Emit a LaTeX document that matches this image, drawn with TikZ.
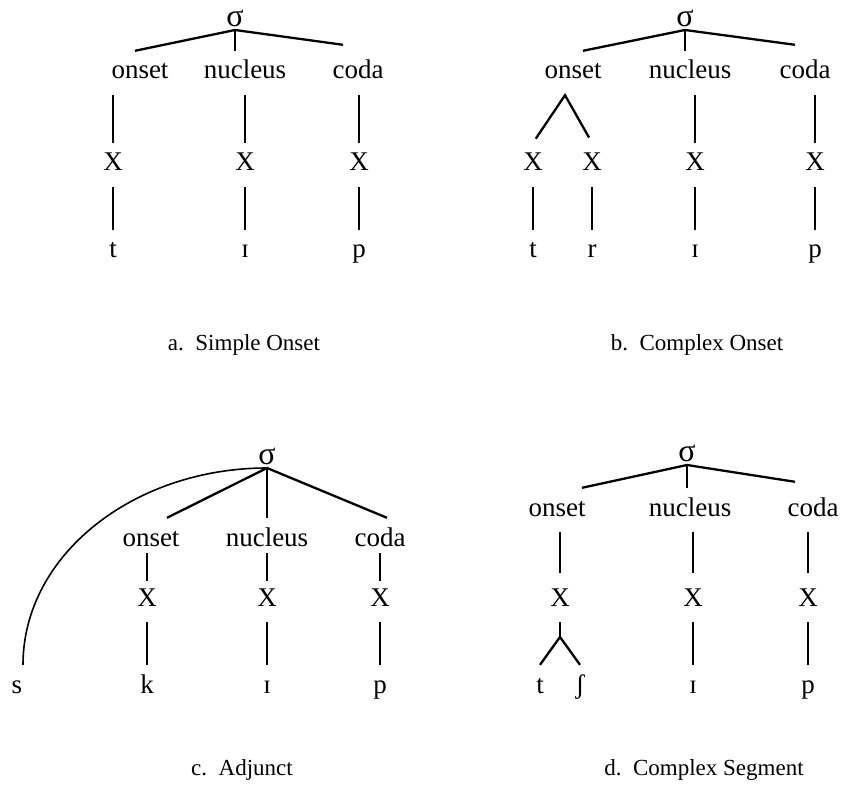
\documentclass[tikz,border=0pt]{standalone}
\usepackage{fontspec}
\setmainfont{Liberation Serif}

\begin{document}
\begin{tikzpicture}[x=1pt,y=-1pt,
  lab/.style={font=\fontsize{27}{30}\selectfont, text height=19pt, text depth=7pt, inner xsep=2pt, inner ysep=9pt},
  sig/.style={font=\fontsize{32}{36}\selectfont, inner sep=3pt, anchor=south},
  captext/.style={font=\fontsize{23}{27}\selectfont},
  link/.style={line width=1.6pt},
  branch/.style={line width=2.3pt}]
\useasboundingbox (0,0) rectangle (848,791);

% a. simple onset
\node[sig] (siga) at (235,30) {σ};
\node[lab] (ona) at (140,73) {onset};
\node[lab] (nua) at (245,73) {nucleus};
\node[lab] (coa) at (358,73) {coda};
\foreach \n/\x in {xa1/113, xa2/245, xa3/359}
  \node[lab] (\n) at (\x,165) {X};
\node[lab] (ta) at (113,252) {t};
\node[lab] (ia) at (245,252) {ɪ};
\node[lab] (pa) at (359,252) {p};
\draw[branch] ([xshift=-5pt]ona.north) -- (siga.south) -- ([shift={(-15pt,6pt)}]coa.north);
\draw[link] (siga.south) -- (siga.south |- nua.north);
\foreach \a/\b in {ona/xa1, nua/xa2, coa/xa3}
  \draw[link] (\a.south -| \b) -- (\b.north);
\foreach \a/\b in {xa1/ta, xa2/ia, xa3/pa}
  \draw[link] (\a.south) -- (\b.north);
\node[captext] (capa) at (244,345) {a.\ \ Simple Onset};

% b. complex onset
\node[sig] (sigb) at (685,30) {σ};
\node[lab] (onb) at (573,73) {onset};
\node[lab] (nub) at (690,73) {nucleus};
\node[lab] (cob) at (805,73) {coda};
\foreach \n/\x in {xb1/533, xb2/592, xb3/695, xb4/815}
  \node[lab] (\n) at (\x,165) {X};
\node[lab] (tb) at (533,252) {t};
\node[lab] (rb) at (592,252) {r};
\node[lab] (ib) at (695,252) {ɪ};
\node[lab] (pb) at (815,252) {p};
\draw[branch] ([xshift=10pt]onb.north) -- (sigb.south) -- ([shift={(-10pt,6pt)}]cob.north);
\draw[link] (sigb.south) -- (sigb.south |- nub.north);
\draw[branch, shorten <=5pt, shorten >=6pt] (xb1.north) -- ([xshift=-8pt]onb.south) -- (xb2.north);
\foreach \a/\b in {nub/xb3, cob/xb4}
  \draw[link] (\a.south -| \b) -- (\b.north);
\foreach \a/\b in {xb1/tb, xb2/rb, xb3/ib, xb4/pb}
  \draw[link] (\a.south) -- (\b.north);
\node[captext] (capb) at (697,345) {b.\ \ Complex Onset};

% c. adjunct
\node[sig] (sigc) at (267,468) {σ};
\node[lab] (onc) at (151,540) {onset};
\node[lab] (nuc) at (267,540) {nucleus};
\node[lab] (coc) at (380,540) {coda};
\foreach \n/\x in {xc1/147, xc2/267, xc3/380}
  \node[lab] (\n) at (\x,600) {X};
\node[lab] (sc) at (17,687) {s};
\node[lab] (kc) at (147,687) {k};
\node[lab] (ic) at (267,687) {ɪ};
\node[lab] (pc) at (380,687) {p};
\draw[branch] ([xshift=16pt]onc.north) -- (sigc.south) -- ([xshift=7pt]coc.north);
\draw[link] (sigc.south) -- (nuc.north);
\draw[link] ([xshift=6pt]sc.north) .. controls +(0,-110) and +(-133,0) .. (sigc.south);
\foreach \a/\b in {onc/xc1, nuc/xc2, coc/xc3}
  \draw[link, shorten <=-9pt, shorten >=-3pt] (\a.south -| \b) -- (\b.north);
\foreach \a/\b in {xc1/kc, xc2/ic, xc3/pc}
  \draw[link] (\a.south) -- (\b.north);
\node[captext] (capc) at (242,770) {c.\ \ Adjunct};

% d. complex segment
\node[sig] (sigd) at (687,465) {σ};
\node[lab] (ond) at (557,510) {onset};
\node[lab] (nud) at (690,510) {nucleus};
\node[lab] (cod) at (813,510) {coda};
\foreach \n/\x in {xd1/560, xd2/693, xd3/808}
  \node[lab] (\n) at (\x,600) {X};
\node[lab] (td) at (540,687) {t};
\node[lab] (shd) at (580,687) {ʃ};
\node[lab] (id) at (693,687) {ɪ};
\node[lab] (pd) at (808,687) {p};
\coordinate (jd) at (560,637);
\draw[branch] ([xshift=25pt]ond.north) -- (sigd.south) -- ([shift={(-18pt,6pt)}]cod.north);
\draw[link] (sigd.south) -- (sigd.south |- nud.north);
\foreach \a/\b in {ond/xd1, nud/xd2, cod/xd3}
  \draw[link, shorten >=5pt] (\a.south -| \b) -- (\b.north);
\draw[link] (xd1.south) -- (jd);
\draw[branch] (td.north) -- (jd) -- (shd.north);
\foreach \a/\b in {xd2/id, xd3/pd}
  \draw[link] (\a.south) -- (\b.north);
\node[captext] (capd) at (704,770) {d.\ \ Complex Segment};
\end{tikzpicture}
\end{document}
